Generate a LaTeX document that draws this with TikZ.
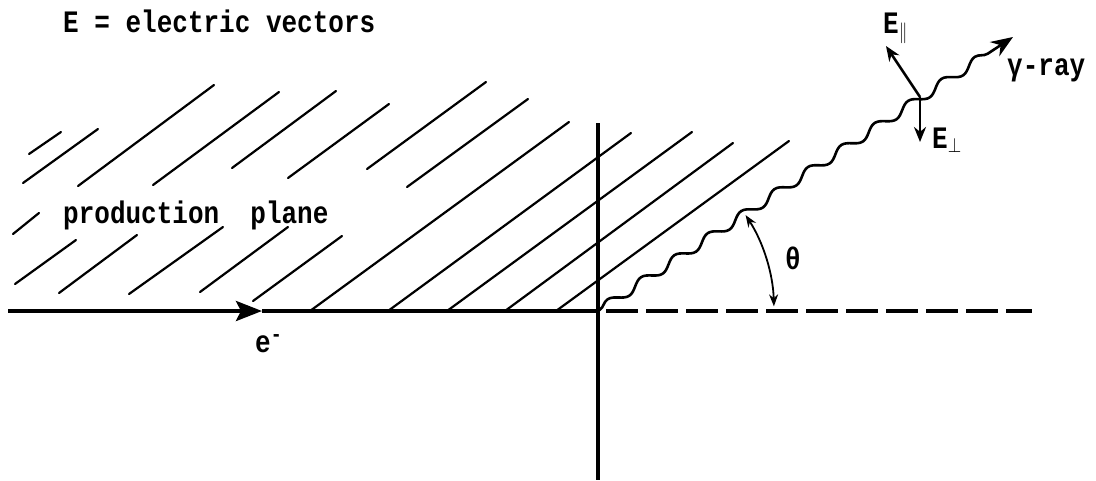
\documentclass[tikz,border=0pt]{standalone}
\usepackage{fontspec}
\setmainfont{Liberation Mono}
\usetikzlibrary{arrows.meta,decorations.pathmorphing}

\tikzset{
  hatch/.style={line width=2.2pt, line cap=round},
  axisline/.style={line width=4pt},
  dashline/.style={line width=4pt, dash pattern=on 32pt off 8pt},
  photon/.style={line width=2.6pt, decorate,
    decoration={snake, amplitude=4.5pt, segment length=40pt, pre length=2pt, post length=16pt}},
  evec/.style={line width=2.6pt, -{Stealth[length=15pt,width=12pt]}},
  anglearc/.style={line width=1.8pt, {Stealth[length=12pt,width=9pt]}-{Stealth[length=12pt,width=9pt]}},
  lbl/.style={font=\fontsize{26}{28}\selectfont\bfseries, inner sep=0pt},
}

\begin{document}
\begin{tikzpicture}[x=1pt,y=-1pt]
  \useasboundingbox (0,0) rectangle (1096,480);
  % hatching of the production plane
  \foreach \xa/\ya/\xb/\yb in {29/154/61/132, 23/183/98/129, 78/186/214/85,
      153/185/279/92, 232/168/336/91, 288/178/389/104, 367/169/486/82,
      407/187/528/99, 310/311/569/122, 388/311/631/133, 447/311/692/132,
      505/311/733/143, 556/311/789/141, 13/234/39/213, 15/284/76/240,
      59/293/137/235, 129/294/223/227, 200/292/288/227, 253/301/342/236}
    \draw[hatch] (\xa,\ya) -- (\xb,\yb);
  % points
  \coordinate (estart) at (8,311);
  \coordinate (emid) at (262,311);
  \coordinate (o) at (598,311);
  \coordinate (vtop) at (598,123);
  \coordinate (vbot) at (598,480);
  \coordinate (dstart) at (606,311);
  \coordinate (dend) at (1032,311);
  \coordinate (gtip) at (1013,37);
  \coordinate (eo) at (920,97);
  \coordinate (epar) at (886,46);
  \coordinate (eperp) at (920,142);
  \coordinate (thtop) at (745.6,215.1);
  % electron and axes
  \draw[axisline, -{Stealth[length=26pt,width=20pt,inset=5pt]}] (estart) -- (emid);
  \draw[axisline] (emid) -- (o);
  \draw[axisline] (vtop) -- (vbot);
  \draw[dashline] (dstart) -- (dend);
  % photon
  \draw[photon, -{Stealth[length=22pt,width=17pt]}] (o) -- (gtip);
  \draw[evec] (eo) -- (epar);
  \draw[evec] (eo) -- (eperp);
  \draw[anglearc] (thtop) arc[start angle=-33, end angle=-1.5, radius=176];
  % labels
  \node[lbl, anchor=base west] (title) at (63,32) {\scalebox{1}[1.2]{E = electric vectors}};
  \node[lbl, anchor=base west] (plane) at (63,223) {\scalebox{1}[1.2]{production~~plane}};
  \node[lbl, anchor=base west] (elec) at (255,352) {\scalebox{1}[1.2]{e\textsuperscript{-}}};
  \node[lbl, anchor=base west] (Epar) at (883,33) {\scalebox{1}[1.2]{E\textsubscript{$\parallel$}}};
  \node[lbl, anchor=base west] (Eperp) at (932,148) {\scalebox{1}[1.2]{E\textsubscript{$\perp$}}};
  \node[lbl, anchor=base west] (gam) at (1007,75) {\scalebox{1}[1.2]{γ-ray}};
  \node[lbl] (theta) at (793,258) {\scalebox{1}[1.2]{θ}};
\end{tikzpicture}
\end{document}
